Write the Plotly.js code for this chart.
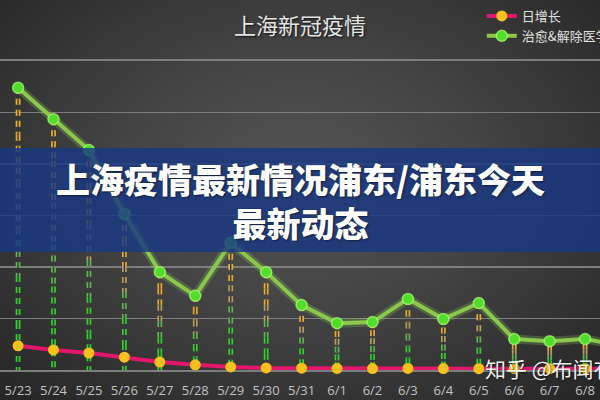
<!DOCTYPE html>
<html>
<head>
<meta charset="utf-8">
<script src="https://cdn.plot.ly/plotly-3.0.1.min.js"></script>
<style>
  html, body { margin: 0; padding: 0; }
  #chart {
    width: 600px; height: 400px;
    background: radial-gradient(ellipse 70% 75% at 50% 45%, #555555 0%, #434343 45%, #2e2e2e 85%, #262626 100%);
  }
</style>
</head>
<body>
<div id="chart"></div>
<script>
// ---- data ----
const dates = ['5/23','5/24','5/25','5/26','5/27','5/28','5/29','5/30','5/31',
               '6/1','6/2','6/3','6/4','6/5','6/6','6/7','6/8','6/9'];
const dailyNew = [470, 390, 330, 250, 155, 100, 60, 40, 35, 30, 28, 30, 28, 25, 25, 25, 25, 25];
const recovered = [5480, 4870, 4270, 3030, 1900, 1440, 2470, 1900, 1260, 910, 930, 1380, 990, 1300, 600, 560, 600, 480];
const seriesNames = ['日增长', '治愈&解除医学观察'];
const chartTitle = '上海新冠疫情';
const bannerText = '上海疫情最新情况浦东/浦东今天<br>最新动态';
const watermark = '知乎 @布闻有';

// ---- drop lines (gradient orange -> gray -> green), built from the data ----
const stops = [
  [0.00, [238, 178, 46]],
  [0.30, [228, 172, 54]],
  [0.50, [150, 148, 130]],
  [0.65, [55, 204, 48]],
  [1.00, [38, 214, 38]]
];
function colorAt(f) {
  for (let i = 1; i < stops.length; i++) {
    if (f <= stops[i][0]) {
      const [f0, c0] = stops[i - 1], [f1, c1] = stops[i];
      const t = (f - f0) / (f1 - f0);
      const c = c0.map((v, k) => Math.round(v + (c1[k] - v) * t));
      return 'rgb(' + c.join(',') + ')';
    }
  }
  return 'rgb(38,214,38)';
}
const pieces = 6;
const dropTraces = [];
const dropOverlay = [];
for (let p = 0; p < pieces; p++) {
  const xs = [], ys = [];
  dates.forEach((d, i) => {
    const top = recovered[i];
    const a = top * (1 - p / pieces), b = top * (1 - (p + 1) / pieces);
    xs.push(d, d, null); ys.push(a, b, null);
  });
  const col = colorAt((p + 0.5) / pieces);
  dropTraces.push({
    x: xs, y: ys, type: 'scatter', mode: 'lines', showlegend: false, hoverinfo: 'skip',
    line: { color: col, width: 4.8, dash: '6px,5px' }, connectgaps: false
  });
  dropOverlay.push({
    x: xs, y: ys, type: 'scatter', mode: 'lines', showlegend: false, hoverinfo: 'skip',
    line: { color: '#3a3a3a', width: 1.4, dash: '6px,5px' }, connectgaps: false
  });
}

const greenGlow = {
  x: dates, y: recovered, type: 'scatter', mode: 'lines', showlegend: false, hoverinfo: 'skip',
  line: { color: 'rgba(150,230,90,0.22)', width: 9 }
};
const greenTrace = {
  x: dates, y: recovered, type: 'scatter', mode: 'lines+markers', name: seriesNames[1],
  legendrank: 2, cliponaxis: false,
  line: { color: '#8cc84b', width: 4 },
  marker: { color: '#52dc2c', size: 11, line: { color: 'rgba(175,255,120,0.7)', width: 1.5 } }
};
const redTrace = {
  x: dates, y: dailyNew, type: 'scatter', mode: 'lines+markers', name: seriesNames[0],
  legendrank: 1, cliponaxis: false,
  line: { color: '#e2166c', width: 4 },
  marker: { color: '#f6c11c', size: 11, line: { width: 0 } }
};

const H = 400, T = 61, B = 30;
const plotH = H - T - B;
const py = px => (H - B - px) / plotH;   // pixel-from-top -> paper y (layout helper)

const layout = {
  width: 600, height: 400,
  margin: { l: 0, r: 0, t: T, b: B, autoexpand: false },
  paper_bgcolor: 'rgba(0,0,0,0)', plot_bgcolor: 'rgba(0,0,0,0)',
  font: { family: 'Noto Sans CJK SC, Noto Sans, sans-serif', color: '#dddddd' },
  title: {
    text: chartTitle, x: 0.5, xanchor: 'center', xref: 'paper',
    y: 1 - 26 / H, yanchor: 'middle', yref: 'container',
    font: { size: 22, color: '#e4e4e4', family: 'Noto Sans CJK SC', shadow: '1px 1px 2px #111' }
  },
  showlegend: true,
  legend: {
    x: 0.803, xanchor: 'left', y: 1 - 1 / H, yanchor: 'top', yref: 'container',
    bgcolor: 'rgba(0,0,0,0)', font: { size: 13, color: '#e0e0e0', family: 'Noto Sans CJK SC' },
    tracegroupgap: 0, itemwidth: 30
  },
  xaxis: {
    type: 'category', range: [-0.51, 16.42], showgrid: false, zeroline: false,
    showline: true, mirror: true, linecolor: '#7d7d7d', linewidth: 1.6, layer: 'below traces',
    ticks: '', ticklabelstandoff: 8,
    tickfont: { size: 13, color: '#c2c2c2', family: 'Open Sans' }, fixedrange: true
  },
  yaxis: {
    range: [0, 6000], dtick: 1000, showticklabels: false, ticks: '',
    showgrid: true, gridcolor: '#7d7d7d', gridwidth: 1.6, zeroline: false, layer: 'below traces',
    fixedrange: true
  },
  shapes: [{
    type: 'rect', xref: 'paper', yref: 'paper', x0: 0, x1: 1, y0: py(252), y1: py(148),
    fillcolor: 'rgba(25,56,132,0.82)', line: { width: 0 }, layer: 'above'
  }],
  annotations: [
    {
      text: bannerText, xref: 'paper', yref: 'paper', x: 0.5, y: py(200),
      xanchor: 'center', yanchor: 'middle', showarrow: false,
      font: { size: 34, color: '#ffffff', family: 'Noto Sans CJK SC', weight: 900, shadow: '1px 1px 2px rgba(0,0,0,0.5)' }
    },
    {
      text: watermark, xref: 'paper', yref: 'paper', x: 483 / 600, y: py(368),
      xanchor: 'left', yanchor: 'middle', showarrow: false,
      font: { size: 21, color: 'rgba(255,255,255,0.95)', family: 'Noto Sans CJK SC', shadow: '1px 1px 2px rgba(0,0,0,0.6)' }
    }
  ]
};

Plotly.newPlot('chart', [...dropTraces, ...dropOverlay, greenGlow, greenTrace, redTrace], layout,
  { displayModeBar: false, staticPlot: true });
</script>
</body>
</html>
